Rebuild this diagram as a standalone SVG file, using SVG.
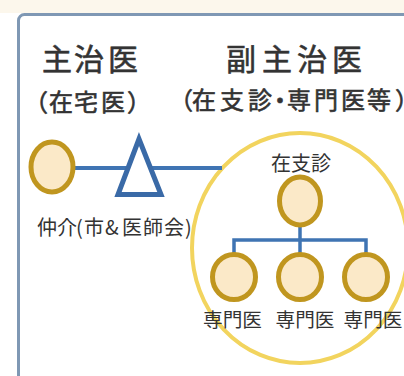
<svg xmlns="http://www.w3.org/2000/svg" width="404" height="376" viewBox="0 0 404 376">
<defs>
<style>
.t{font-family:"Noto Sans CJK JP","Noto Sans CJK SC",sans-serif;fill:#333333;font-weight:400}
.b{stroke:#333333;stroke-width:0.6}
.doc{fill:#fbe9c8;stroke:#c0961f;stroke-width:5}
.ln{fill:none;stroke:#3f74b3;stroke-linecap:butt}
</style>
</defs>
<rect x="0" y="0" width="404" height="376" fill="#ffffff"/>
<rect x="0" y="0" width="404" height="13" fill="#fcf7ec"/>
<g id="frame">
<rect x="18.5" y="14.5" width="500" height="500" rx="6" fill="#ffffff" stroke="#7f98b4" stroke-width="3"/>
</g>
<g id="titles">
<text class="t b" y="69.5" font-size="30" x="42 74 108">主治医</text>
<text class="t b" y="69.5" font-size="30" x="226 262 297 332">副主治医</text>
<text class="t b" y="110.5" font-size="24" x="24 49 74 101 127">（在宅医）</text>
<text class="t b" y="109" font-size="24" x="169 192 220 248 268 287 314 341 367 395">（在支診・専門医等）</text>
</g>
<g id="node-group">
<ellipse cx="300" cy="248" rx="108" ry="115" fill="none" stroke="#f2d45e" stroke-width="4"/>
</g>
<g id="connectors">
<line class="ln" x1="74" y1="168" x2="222" y2="168" stroke-width="4"/>
<polyline class="ln" points="300,225 300,240" stroke-width="3.5"/>
<polyline class="ln" points="234,253 234,240 366,240 366,253" stroke-width="3.5"/>
<line class="ln" x1="300" y1="240" x2="300" y2="253" stroke-width="3.5"/>
</g>
<g id="node-hub">
<ellipse class="doc" cx="52" cy="167" rx="21" ry="25"/>
</g>
<g id="node-mediator">
<polygon points="139,139 118,194.5 161,194.5" fill="#ffffff" stroke="#3a6aa7" stroke-width="5"/>
<text class="t" y="235" font-size="20" x="37 57 76 84 105 122 143 164 185">仲介(市&amp;医師会)</text>
</g>
<g id="node-zaishin">
<ellipse class="doc" cx="300" cy="201" rx="20.5" ry="24"/>
<text class="t" x="301" y="170.5" font-size="20" text-anchor="middle">在支診</text>
</g>
<g id="node-sp1">
<ellipse class="doc" cx="234" cy="277" rx="21.5" ry="22.5"/>
<text class="t" x="232.5" y="327" font-size="19" text-anchor="middle" textLength="59" lengthAdjust="spacingAndGlyphs">専門医</text>
</g>
<g id="node-sp2">
<ellipse class="doc" cx="300" cy="277" rx="21.5" ry="22.5"/>
<text class="t" x="305" y="327" font-size="19" text-anchor="middle" textLength="59" lengthAdjust="spacingAndGlyphs">専門医</text>
</g>
<g id="node-sp3">
<ellipse class="doc" cx="366" cy="277" rx="21.5" ry="22.5"/>
<text class="t" x="373" y="327" font-size="19" text-anchor="middle" textLength="59" lengthAdjust="spacingAndGlyphs">専門医</text>
</g>
</svg>
